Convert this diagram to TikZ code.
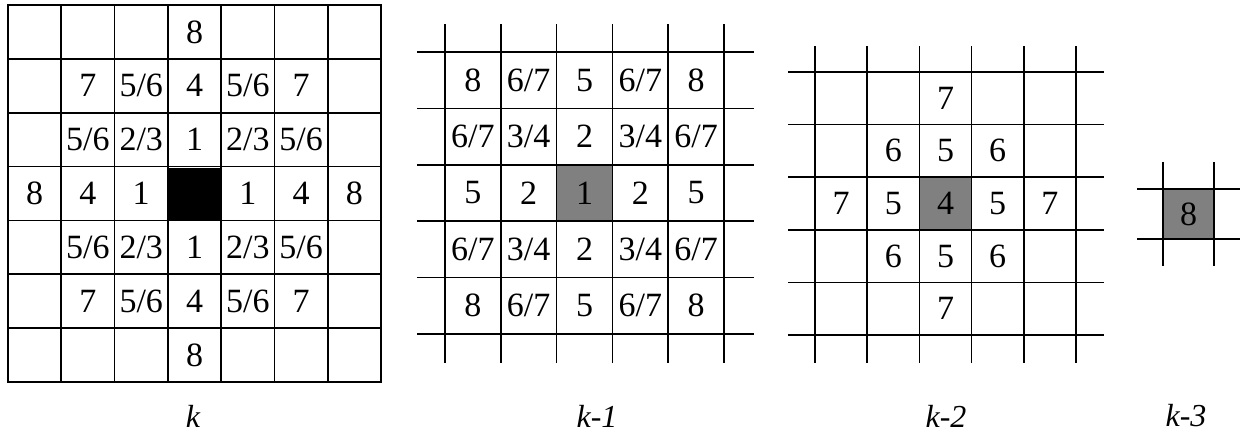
\documentclass[tikz,border=0pt]{standalone}
\usepackage{fontspec}
\setmainfont{Liberation Serif}
\begin{document}
\begin{tikzpicture}[x=1pt,y=-1pt,
  gridline/.style={line width=1.7pt, line cap=rect},
  num/.style={font=\fontsize{34}{34}\selectfont, inner sep=0pt, anchor=center},
  lab/.style={font=\fontsize{32}{32}\selectfont\itshape, inner sep=0pt, anchor=center},
  shade/.style={fill=black!50},
  solid cell/.style={fill=black}]
\useasboundingbox (0,0) rectangle (1241,434);
% ---------- grid k ----------
\fill[solid cell] (167,168) rectangle (221,221);
\foreach \i in {0,...,7} {
  \draw[gridline] ({8+53.29*\i},5) -- ({8+53.29*\i},382);
  \draw[gridline] (8,{5+53.86*\i}) -- (381,{5+53.86*\i});
}
\foreach \r/\c/\t in {0/3/8,
  1/1/7, 1/2/{5/6}, 1/3/4, 1/4/{5/6}, 1/5/7,
  2/1/{5/6}, 2/2/{2/3}, 2/3/1, 2/4/{2/3}, 2/5/{5/6},
  3/0/8, 3/1/4, 3/2/1, 3/4/1, 3/5/4, 3/6/8,
  4/1/{5/6}, 4/2/{2/3}, 4/3/1, 4/4/{2/3}, 4/5/{5/6},
  5/1/7, 5/2/{5/6}, 5/3/4, 5/4/{5/6}, 5/5/7,
  6/3/8} {
  \node[num] (a\r\c) at ({8+53.29*(\c+0.5)},{5+53.86*(\r+0.5)}) {\t};
}
% ---------- grid k-1 ----------
\fill[shade] (557,166) rectangle (613,221);
\foreach \i in {0,...,5} {
  \draw[gridline] ({445+55.8*\i},25) -- ({445+55.8*\i},362);
  \draw[gridline] (418,{52+56.4*\i}) -- (753,{52+56.4*\i});
}
\foreach \r/\c/\t in {
  0/0/8, 0/1/{6/7}, 0/2/5, 0/3/{6/7}, 0/4/8,
  1/0/{6/7}, 1/1/{3/4}, 1/2/2, 1/3/{3/4}, 1/4/{6/7},
  2/0/5, 2/1/2, 2/2/1, 2/3/2, 2/4/5,
  3/0/{6/7}, 3/1/{3/4}, 3/2/2, 3/3/{3/4}, 3/4/{6/7},
  4/0/8, 4/1/{6/7}, 4/2/5, 4/3/{6/7}, 4/4/8} {
  \node[num] (b\r\c) at ({445+55.8*(\c+0.5)},{52+56.4*(\r+0.5)}) {\t};
}
% ---------- grid k-2 ----------
\fill[shade] (919,177) rectangle (972,230);
\foreach \i in {0,...,5} {
  \draw[gridline] ({815+52.2*\i},47) -- ({815+52.2*\i},362);
  \draw[gridline] (789,{72+52.6*\i}) -- (1103,{72+52.6*\i});
}
\foreach \r/\c/\t in {
  0/2/7,
  1/1/6, 1/2/5, 1/3/6,
  2/0/7, 2/1/5, 2/2/4, 2/3/5, 2/4/7,
  3/1/6, 3/2/5, 3/3/6,
  4/2/7} {
  \node[num] (c\r\c) at ({815+52.2*(\c+0.5)},{72+52.6*(\r+0.5)}) {\t};
}
% ---------- grid k-3 ----------
\fill[shade] (1163,189) rectangle (1214,239);
\draw[gridline] (1163,163) -- (1163,265);
\draw[gridline] (1214,163) -- (1214,265);
\draw[gridline] (1138,189) -- (1239,189);
\draw[gridline] (1138,239) -- (1239,239);
\node[num] (d00) at (1188.5,214) {8};
% ---------- labels ----------
\node[lab] (lk) at (193,416) {k};
\node[lab] (lk1) at (597,416) {k-1};
\node[lab] (lk2) at (946,416) {k-2};
\node[lab] (lk3) at (1186,416) {k-3};
\end{tikzpicture}
\end{document}
